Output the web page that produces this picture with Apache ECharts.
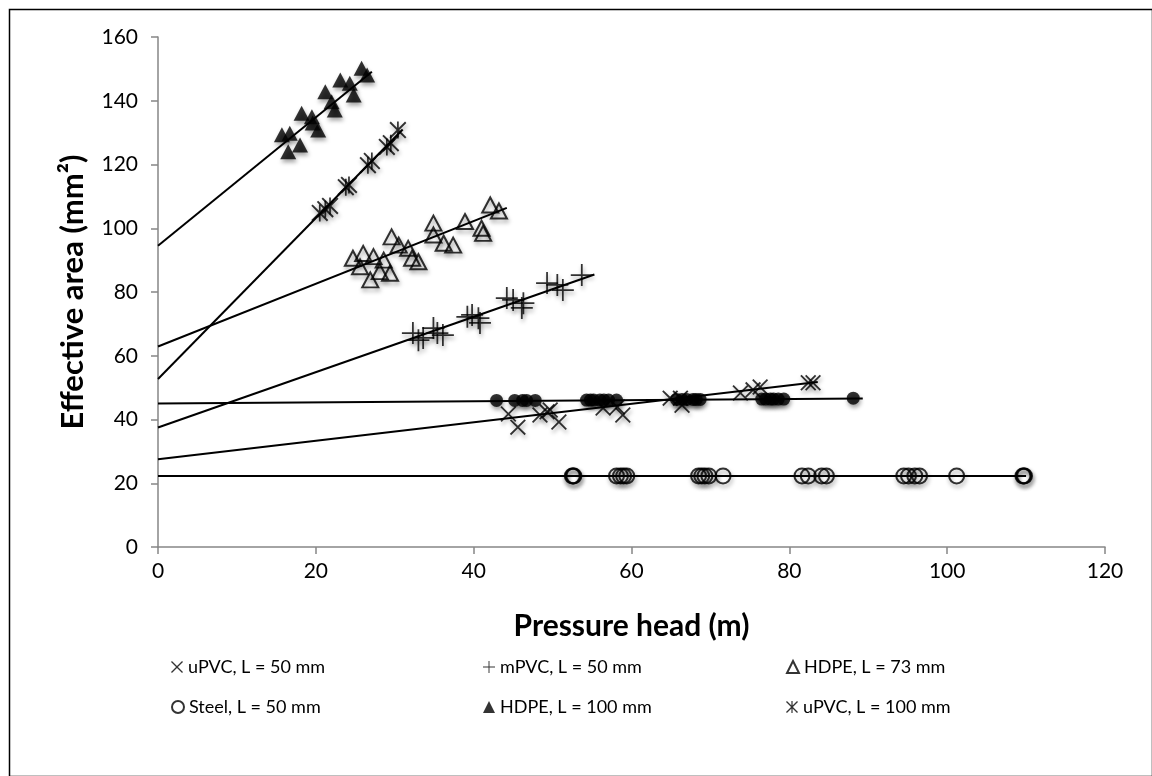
<!DOCTYPE html>
<html>
<head>
<meta charset="utf-8">
<script src="https://cdn.jsdelivr.net/npm/echarts@6/dist/echarts.min.js"></script>
<style>
html,body{margin:0;padding:0;background:#fff;}
#chart{width:1152px;height:776px;}
</style>
</head>
<body>
<div id="chart"></div>
<script>
// ---- data ----
const xTicks = [0, 20, 40, 60, 80, 100, 120];
const yTicks = [0, 20, 40, 60, 80, 100, 120, 140, 160];

const uPVC50 = [[44.4,41.7],[45.6,37.6],[48.4,41.4],[49.3,42.4],[49.7,43.0],[50.8,39.2],[56.4,43.6],[58.2,43.9],[58.9,41.4],[64.9,46.7],[66.2,46.7],[66.4,44.5],[73.8,48.3],[75.4,49.3],[76.3,50.2],[82.4,51.5],[83.0,51.5]];
const mPVC50 = [[32.3,67.1],[33.0,64.9],[33.6,65.6],[34.9,68.7],[35.4,67.1],[36.1,66.5],[39.2,72.2],[39.8,72.8],[40.6,71.8],[40.8,70.3],[44.2,78.1],[45.0,77.5],[46.3,76.5],[46.1,75.0],[49.3,82.8],[50.6,82.2],[51.3,80.6],[53.7,85.3]];
const hdpe73 = [[24.7,90.6],[26.0,92.1],[27.3,91.1],[28.6,90.0],[25.6,87.9],[26.9,83.8],[28.1,86.4],[29.4,85.9],[29.6,97.3],[30.5,94.7],[31.7,93.7],[32.2,90.6],[33.0,89.5],[34.9,101.6],[34.9,97.9],[36.2,95.3],[37.4,94.7],[38.9,102.1],[41.0,100.0],[41.2,98.4],[42.1,107.3],[43.2,105.4]];
const steel50 = [[52.5,22.3],[52.6,22.3],[52.7,22.3],[58.1,22.3],[58.6,22.3],[59.0,22.3],[59.4,22.3],[68.5,22.3],[68.9,22.3],[69.3,22.3],[69.8,22.3],[71.6,22.3],[81.6,22.3],[82.4,22.3],[84.1,22.3],[84.7,22.3],[94.5,22.3],[95.1,22.3],[95.9,22.3],[96.5,22.3],[101.2,22.3],[109.6,22.3],[109.7,22.3],[109.8,22.3]];
const hdpe100 = [[15.7,129.3],[16.7,129.8],[16.5,124.0],[18.0,126.1],[18.2,136.1],[19.5,135.0],[20.3,130.8],[19.6,133.0],[21.2,142.8],[22.0,139.7],[22.4,137.1],[23.1,146.5],[24.3,145.5],[24.8,141.8],[25.8,150.2],[26.5,148.1]];
const uPVC100 = [[20.5,104.8],[21.2,106.0],[21.8,107.0],[23.8,112.9],[24.2,113.6],[26.6,119.8],[27.1,121.1],[29.0,125.5],[29.5,126.7],[30.4,130.8]];
const filledCircles = [[42.9,46.0],[45.2,46.0],[46.2,46.0],[46.7,46.0],[47.8,46.0],[54.3,46.1],[54.8,46.1],[55.2,46.1],[56.0,46.1],[56.5,46.1],[57.1,46.1],[58.1,46.1],[65.7,46.3],[66.4,46.3],[67.0,46.3],[67.8,46.3],[68.2,46.3],[68.7,46.3],[76.5,46.4],[77.0,46.4],[77.6,46.4],[78.0,46.4],[78.6,46.4],[79.3,46.4],[88.1,46.7]];

// trend lines (endpoints)
const fitHDPE100 = [[0,94.5],[27.1,149.1]];
const fitUPVC100 = [[0,52.7],[31.0,131.0]];
const fitHDPE73 = [[0,62.9],[44.2,106.4]];
const fitMPVC50 = [[0,37.5],[55.3,85.5]];
const fitFilled = [[0,45.0],[89.3,46.6]];
const fitUPVC50 = [[0,27.5],[83.6,51.8]];
const fitSteel50 = [[0,22.3],[110,22.3]];

const names = ['uPVC, L = 50 mm','mPVC, L = 50 mm','HDPE, L = 73 mm','Steel, L = 50 mm','HDPE, L = 100 mm','uPVC, L = 100 mm'];

// ---- symbols ----
const crossPath = 'path://M0,8 L8,0 L50,42 L92,0 L100,8 L58,50 L100,92 L92,100 L50,58 L8,100 L0,92 L42,50 Z';
const plusPath = 'path://M46,0 H54 V46 H100 V54 H54 V100 H46 V54 H0 V46 H46 Z';
const starPath = 'path://M0,8 L8,0 L50,42 L92,0 L100,8 L58,50 L100,92 L92,100 L50,58 L8,100 L0,92 L42,50 Z M45,0 H55 V100 H45 Z';

const FONT = 'Lato';
const shadow = {shadowBlur: 4, shadowOffsetX: 1, shadowOffsetY: 3, shadowColor: 'rgba(0,0,0,0.45)'};

function scatter(name, data, symbol, size, style) {
  return {type: 'scatter', name: name, data: data, symbol: symbol, symbolSize: size, z: 3,
    itemStyle: Object.assign({}, shadow, style)};
}
function fit(name, data) {
  return {type: 'line', name: name, data: data, symbol: 'none', z: 4, silent: true,
    lineStyle: {color: '#000', width: 2}};
}

const legendPos = [[166,653],[478,653],[781,653],[166,693],[478,693],[781,693]];
const legends = names.map((n, i) => ({
  data: [n], left: legendPos[i][0], top: legendPos[i][1], orient: 'horizontal',
  itemWidth: 12, itemHeight: 12, selectedMode: false,
  itemStyle: {shadowBlur: 0, shadowOffsetX: 0, shadowOffsetY: 0},
  textStyle: {fontFamily: FONT, fontSize: 18, color: '#000'}
}));

const chart = echarts.init(document.getElementById('chart'));
chart.setOption({
  animation: false,
  backgroundColor: '#fff',
  legend: legends,
  grid: {left: 158, right: 47, top: 37, bottom: 229, containLabel: false},
  xAxis: {
    type: 'value', min: 0, max: 120, interval: 20,
    name: 'Pressure head (m)', nameLocation: 'middle', nameGap: 64,
    nameTextStyle: {fontFamily: FONT, fontSize: 30, fontWeight: 'bold', color: '#000'},
    axisLine: {show: true, onZero: false, lineStyle: {color: '#868686', width: 1.5}},
    axisTick: {show: true, length: 7, lineStyle: {color: '#868686', width: 1.5}},
    axisLabel: {fontFamily: FONT, fontSize: 21, color: '#000', margin: 14,
      formatter: v => xTicks.includes(v) ? String(v) : ''},
    splitLine: {show: false}
  },
  yAxis: {
    type: 'value', min: 0, max: 160, interval: 20,
    name: 'Effective area (mm²)', nameLocation: 'middle', nameGap: 70, nameRotate: 90,
    nameTextStyle: {fontFamily: FONT, fontSize: 31, fontWeight: 'bold', color: '#000'},
    axisLine: {show: true, lineStyle: {color: '#868686', width: 1.5}},
    axisTick: {show: true, length: 7, lineStyle: {color: '#868686', width: 1.5}},
    axisLabel: {fontFamily: FONT, fontSize: 21, color: '#000', margin: 20,
      formatter: v => yTicks.includes(v) ? String(v) : ''},
    splitLine: {show: false}
  },
  graphic: [{
    type: 'rect', left: 7, top: 7, z: 100, silent: true,
    shape: {width: 1143, height: 767},
    style: {fill: 'none', stroke: '#000', lineWidth: 1.5}
  }],
  series: [
    fit('fit1', fitHDPE100), fit('fit2', fitUPVC100), fit('fit3', fitHDPE73),
    fit('fit4', fitMPVC50), fit('fit5', fitFilled), fit('fit6', fitUPVC50), fit('fit7', fitSteel50),
    scatter(names[0], uPVC50, crossPath, 16, {color: '#000'}),
    scatter(names[1], mPVC50, plusPath, 22, {color: '#000'}),
    scatter(names[2], hdpe73, 'triangle', [16, 15], {color: 'rgba(255,255,255,0)', borderColor: '#000', borderWidth: 2}),
    scatter(names[3], steel50, 'circle', 15, {color: 'rgba(255,255,255,0)', borderColor: '#000', borderWidth: 2}),
    scatter(names[4], hdpe100, 'triangle', [16, 15], {color: '#000'}),
    scatter(names[5], uPVC100, starPath, 17, {color: '#000'}),
    scatter('filled circles', filledCircles, 'circle', 13, {color: '#000'})
  ]
});
</script>
</body>
</html>
